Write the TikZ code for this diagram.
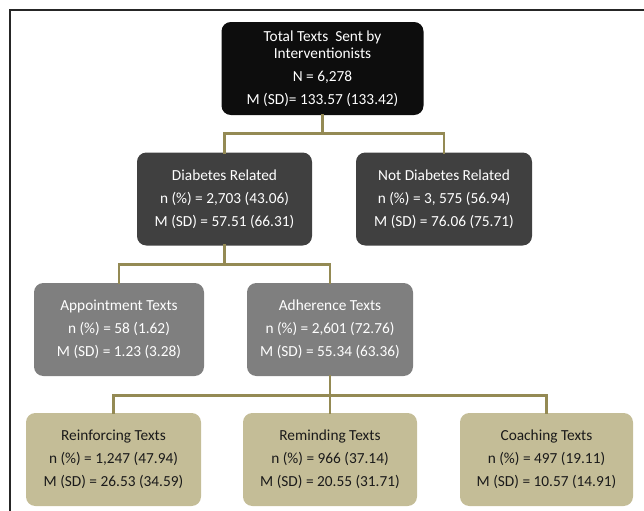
\documentclass[tikz,border=0pt]{standalone}
\usepackage{fontspec}
\setmainfont{Carlito}
\usepackage{xcolor}
\usepackage{tikz}
\usetikzlibrary{calc}
\definecolor{topbg}{HTML}{0D0D0D}
\definecolor{darkbg}{HTML}{404040}
\definecolor{midbg}{HTML}{7F7F7F}
\definecolor{tanbg}{HTML}{C4BD97}
\definecolor{olive}{HTML}{948A54}
\definecolor{ink}{HTML}{1A1A1A}
\definecolor{framec}{HTML}{262626}
\tikzset{
  box/.style={rounded corners=7pt, inner sep=0pt, align=center, minimum height=69.75pt,
    font=\fontsize{11.5}{12.5}\selectfont},
  boxtop/.style={box, fill=topbg, text=white},
  boxdark/.style={box, fill=darkbg, text=white},
  boxmid/.style={box, fill=midbg, text=white},
  boxtan/.style={box, fill=tanbg, text=ink},
  link/.style={draw=olive, line width=2.2pt, line cap=rect, line join=miter},
  frame/.style={draw=framec, line width=1.5pt},
}

\begin{document}
\begin{tikzpicture}[x=0.75pt, y=-0.75pt]
  \useasboundingbox (0,0) rectangle (644,511);
  \draw[frame] (9.5,511) |- (644,9.5);

  % Top box
  \node[boxtop, minimum width=151.5pt] (total) at (322.5,68.5)
    {Total Texts~ Sent by\\Interventionists\\[4.75pt]N = 6,278\\[4.75pt]M (SD)= 133.57 (133.42)};

  % Diabetes split
  \node[boxdark, minimum width=131.25pt] (diab) at (224.5,199)
    {Diabetes Related\\[4.75pt]n (\%) = 2,703 (43.06)\\[4.75pt]M (SD) = 57.51 (66.31)};
  \node[boxdark, minimum width=132pt] (notdiab) at (444,199)
    {Not Diabetes Related\\[4.75pt]n (\%) = 3, 575 (56.94)\\[4.75pt]M (SD) = 76.06 (75.71)};

  % Appointment / adherence
  \node[boxmid, minimum width=127.5pt] (appt) at (119,329.5)
    {Appointment Texts\\[4.75pt]n (\%) = 58 (1.62)\\[4.75pt]M (SD) = 1.23 (3.28)};
  \node[boxmid, minimum width=124.5pt] (adher) at (330,329.5)
    {Adherence Texts\\[4.75pt]n (\%) = 2,601 (72.76)\\[4.75pt]M (SD) = 55.34 (63.36)};

  % Adherence types
  \node[boxtan, minimum width=131.25pt] (reinf) at (113.5,459.5)
    {Reinforcing Texts\\[4.75pt]n (\%) = 1,247 (47.94)\\[4.75pt]M (SD) = 26.53 (34.59)};
  \node[boxtan, minimum width=130.5pt] (remind) at (330,459.5)
    {Reminding Texts\\[4.75pt]n (\%) = 966 (37.14)\\[4.75pt]M (SD) = 20.55 (31.71)};
  \node[boxtan, minimum width=129.75pt] (coach) at (546.5,459.5)
    {Coaching Texts\\[4.75pt]n (\%) = 497 (19.11)\\[4.75pt]M (SD) = 10.57 (14.91)};

  % Connectors
  \draw[link] (total.south) -- ++(0,18) -| (diab.north);
  \draw[link] (total.south) -- ++(0,18) -| (notdiab.north);
  \draw[link] (diab.south) -- ++(0,19) -| (appt.north);
  \draw[link] (diab.south) -- ++(0,19) -| (adher.north);
  \draw[link] (adher.south) -- ++(0,19) -| (reinf.north);
  \draw[link] (adher.south) -- (remind.north);
  \draw[link] (adher.south) -- ++(0,19) -| (coach.north);
\end{tikzpicture}
\end{document}
